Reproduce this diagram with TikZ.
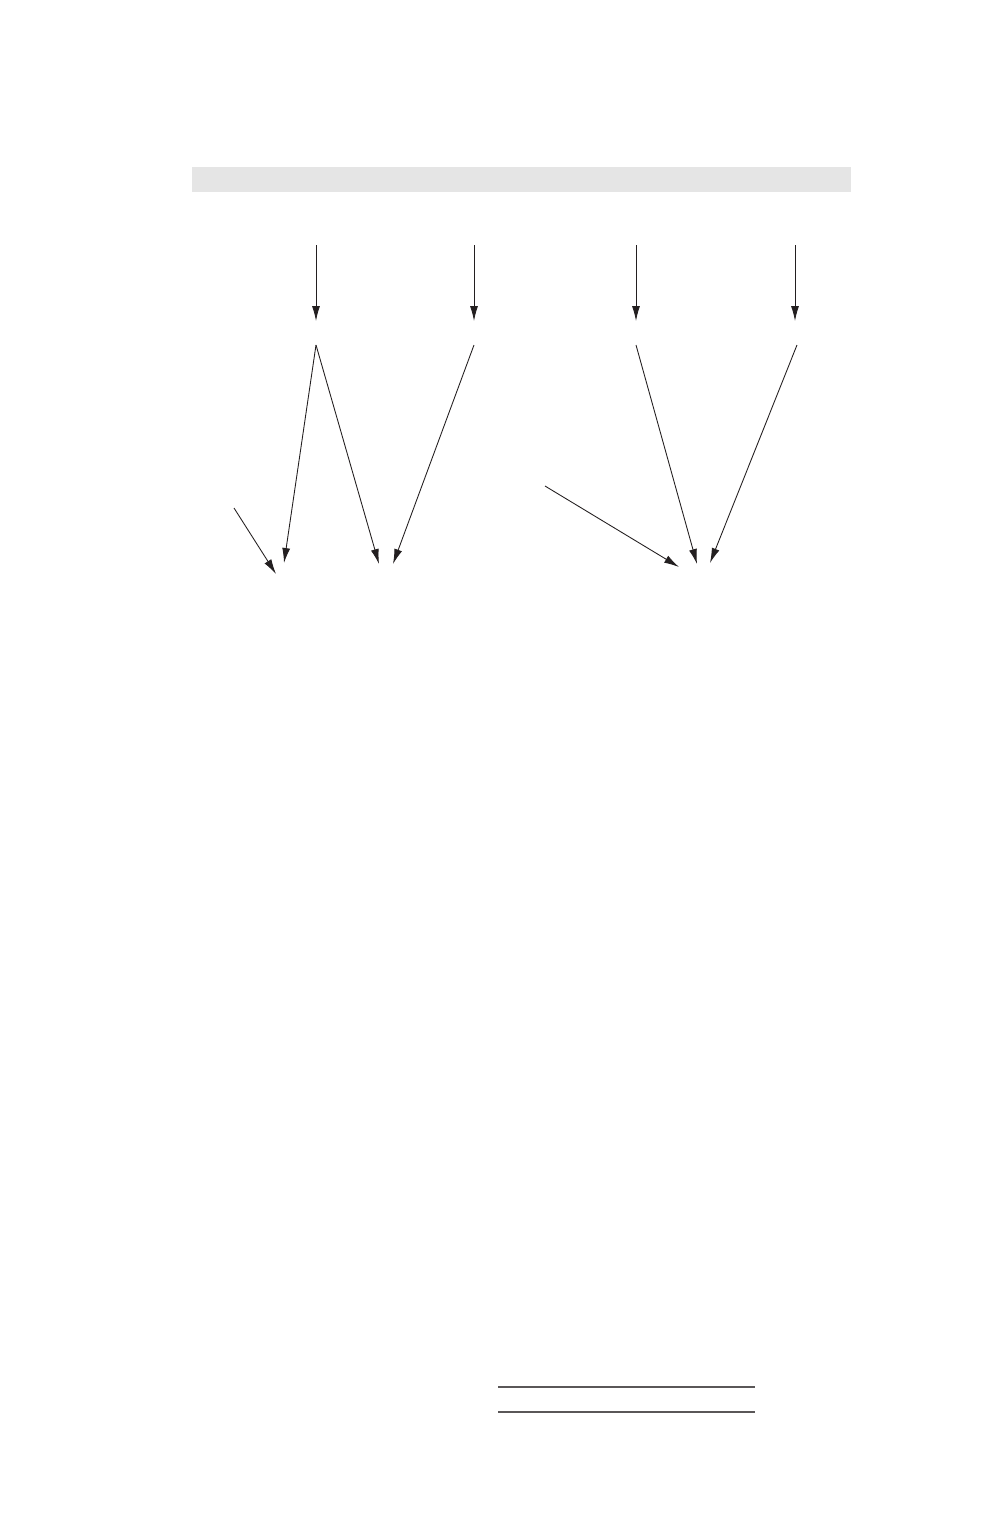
\documentclass[tikz,border=0pt]{standalone}
\usepackage{tikz}
\usetikzlibrary{arrows.meta}
\definecolor{ink}{HTML}{231F20}
\definecolor{barfill}{HTML}{E5E5E5}

\begin{document}
\begin{tikzpicture}[x=0.02cm, y=-0.02cm, line width=0.5pt,
	arr/.style={draw=ink, arrows={-{Latex[length=3mm,width=1.6mm]}}},
	rule/.style={draw=ink!75, line width=0.8pt}]
	\useasboundingbox (0,0) rectangle (1000,1528);
	\fill [barfill] (192,167) rectangle (851,192);
	% upper row
	\coordinate (t1) at (316,245); \coordinate (b1) at (316,321);
	\coordinate (t2) at (474,245); \coordinate (b2) at (474,321);
	\coordinate (t3) at (636,245); \coordinate (b3) at (636,321);
	\coordinate (t4) at (795,245); \coordinate (b4) at (795,321);
	\draw [arr] (t1) -- (b1);
	\draw [arr] (t2) -- (b2);
	\draw [arr] (t3) -- (b3);
	\draw [arr] (t4) -- (b4);
	% lower row
	\coordinate (s1) at (316,345); \coordinate (s2) at (474,345);
	\coordinate (s3) at (636,345); \coordinate (s4) at (797,345);
	\coordinate (s0) at (234,508); \coordinate (s5) at (545,486);
	\coordinate (e0) at (276,574); \coordinate (e1) at (284,563);
	\coordinate (e2) at (379,564); \coordinate (e3) at (393,564);
	\coordinate (e5) at (679,567); \coordinate (e6) at (697,564);
	\coordinate (e7) at (710,563);
	\draw [arr] (s0) -- (e0);
	\draw [arr] (s1) -- (e1);
	\draw [arr] (s1) -- (e2);
	\draw [arr] (s2) -- (e3);
	\draw [arr] (s5) -- (e5);
	\draw [arr] (s3) -- (e6);
	\draw [arr] (s4) -- (e7);
	% bottom rules
	\coordinate (l1) at (498,1387); \coordinate (r1) at (755,1387);
	\coordinate (l2) at (498,1412); \coordinate (r2) at (755,1412);
	\draw [rule] (l1) -- (r1);
	\draw [rule] (l2) -- (r2);
\end{tikzpicture}
\end{document}
